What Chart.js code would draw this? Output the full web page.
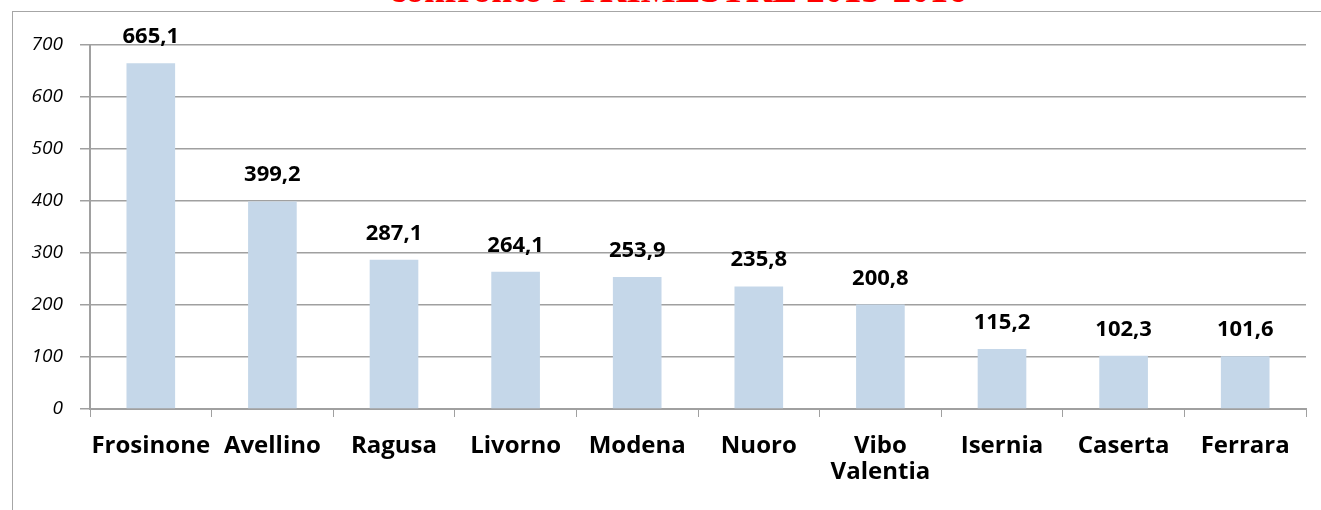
<!DOCTYPE html>
<html>
<head>
<meta charset="utf-8">
<script src="https://cdn.jsdelivr.net/npm/chart.js@4/dist/chart.umd.min.js"></script>
<style>
  html, body { margin: 0; padding: 0; background: #fff; overflow: hidden; }
  #wrap { position: relative; width: 1321px; height: 510px; }
  #frame { position: absolute; left: 12px; top: 11px; width: 1400px; height: 600px;
           border: 1px solid #a6a6a6; box-sizing: border-box; }
  #title { position: absolute; left: 0; width: 1356px; top: -29px; text-align: center;
           font: bold 37px "Liberation Serif", "DejaVu Serif", serif; color: #ff0000;
           line-height: 37px; }
  #warm { position: absolute; left: -2000px; top: 0; font-family: "Open Sans"; }
  canvas { position: absolute; left: 0; top: 0; }
</style>
</head>
<body>
<div id="wrap">
  <div id="frame"></div>
  <div id="title">confronto I TRIMESTRE 2015-2016</div>
  <div id="warm"><b>665,1</b> <i>700</i></div>
  <canvas id="chart" width="1321" height="510"></canvas>
</div>
<script>
  const categories = ["Frosinone", "Avellino", "Ragusa", "Livorno", "Modena", "Nuoro",
    ["Vibo", "Valentia"], "Isernia", "Caserta", "Ferrara"];
  const values = [665.1, 399.2, 287.1, 264.1, 253.9, 235.8, 200.8, 115.2, 102.3, 101.6];
  const yTicks = [0, 100, 200, 300, 400, 500, 600, 700];

  const fmt = (v) => v.toFixed(1).replace(".", ",");

  // value labels above each bar
  const barLabels = {
    id: "barLabels",
    afterDatasetsDraw(chart) {
      const ctx = chart.ctx;
      const meta = chart.getDatasetMeta(0);
      ctx.save();
      ctx.font = "bold 22px 'Open Sans', sans-serif";
      ctx.fillStyle = "#000";
      ctx.textAlign = "center";
      ctx.textBaseline = "alphabetic";
      meta.data.forEach((bar, i) => {
        ctx.fillText(fmt(values[i]), bar.x, bar.y - 20);
      });
      ctx.restore();
    }
  };

  function draw() {
    new Chart(document.getElementById("chart"), {
      type: "bar",
      data: {
        labels: categories,
        datasets: [{
          data: values,
          backgroundColor: "#c5d7e9",
          categoryPercentage: 1,
          barPercentage: 0.4
        }]
      },
      options: {
        responsive: false,
        animation: false,
        layout: { padding: { top: 45, right: 15, left: 0, bottom: 0 } },
        plugins: { legend: { display: false }, tooltip: { enabled: false } },
        scales: {
          x: {
            afterFit: (s) => { s.height = 101; },
            grid: { drawOnChartArea: false, drawTicks: true, tickLength: 8, color: "#a0a0a0", offset: true },
            border: { color: "#a0a0a0", width: 2 },
            ticks: {
              color: "#000",
              padding: 16,
              maxRotation: 0,
              autoSkip: false,
              font: { family: "'Open Sans', sans-serif", size: 24, weight: "bold", lineHeight: 1.1 }
            }
          },
          y: {
            min: 0,
            max: 700,
            afterFit: (s) => { s.width = 90; },
            afterBuildTicks: (s) => { s.ticks = yTicks.map(v => ({ value: v })); },
            grid: { color: "#a0a0a0", lineWidth: 1.5, tickLength: 10 },
            border: { color: "#a0a0a0", width: 2 },
            ticks: {
              color: "#000",
              padding: 17,
              font: { family: "'Open Sans', sans-serif", size: 19, style: "italic" }
            }
          }
        }
      },
      plugins: [barLabels]
    });
  }

  Promise.all([
    document.fonts.load("bold 22px 'Open Sans'"),
    document.fonts.load("italic 19px 'Open Sans'"),
    document.fonts.load("bold 24px 'Open Sans'")
  ]).catch(() => {}).then(() => document.fonts.ready).then(draw);
</script>
</body>
</html>
